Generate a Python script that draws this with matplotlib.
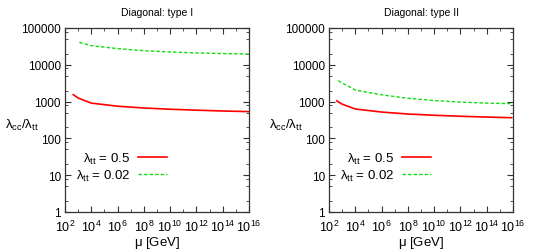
import numpy as np
import matplotlib.pyplot as plt
from matplotlib.ticker import FixedLocator, FuncFormatter, LogLocator, NullFormatter

plt.rcParams['font.family'] = ['Liberation Sans', 'DejaVu Sans']
plt.rcParams['mathtext.fontset'] = 'custom'
plt.rcParams['mathtext.rm'] = 'Liberation Sans'
plt.rcParams['mathtext.it'] = 'Liberation Sans'
plt.rcParams['mathtext.bf'] = 'Liberation Sans:bold'

# values (log10 of mu in GeV, ratio lambda_cc/lambda_tt)
titles = ["Diagonal: type I", "Diagonal: type II"]
labels = [r"$\lambda_{tt}$ = 0.5", r"$\lambda_{tt}$ = 0.02"]

t1_red_logmu = [2.63, 3, 4, 6, 8, 10, 12, 14, 16]
t1_red_ratio = [1540, 1250, 910, 750, 670, 620, 585, 555, 535]
t1_green_logmu = [3.09, 4, 6, 8, 10, 12, 14, 16]
t1_green_ratio = [40700, 33100, 27500, 24200, 22300, 21000, 20200, 19600]

t2_red_logmu = [2.59, 3, 4, 6, 8, 10, 12, 14, 15.9]
t2_red_ratio = [1050, 850, 630, 520, 460, 425, 400, 380, 365]
t2_green_logmu = [2.7, 3, 4, 6, 8, 10, 12, 14, 15.9]
t2_green_ratio = [3700, 3200, 2070, 1530, 1230, 1070, 970, 910, 880]

panels = [
    (t1_red_logmu, t1_red_ratio, t1_green_logmu, t1_green_ratio),
    (t2_red_logmu, t2_red_ratio, t2_green_logmu, t2_green_ratio),
]

fig = plt.figure(figsize=(5.5, 2.53), dpi=100)
lefts = [65 / 550, 329 / 550]

for k, (rx, ry, gx, gy) in enumerate(panels):
    ax = fig.add_axes([lefts[k], 40 / 253, 184 / 550, 184 / 253])
    ax.plot(10.0 ** np.array(rx), ry, color='#ff0000', lw=1.2, label=labels[0])
    ax.plot(10.0 ** np.array(gx), gy, color='#11dd11', lw=1.0,
            dashes=(2.5, 1.5), label=labels[1])
    ax.set_xscale('log')
    ax.set_yscale('log')
    ax.set_xlim(1e2, 1e16)
    ax.set_ylim(1, 1e5)

    ax.xaxis.set_major_locator(FixedLocator([10.0 ** e for e in range(2, 17, 2)]))
    ax.xaxis.set_minor_locator(FixedLocator([10.0 ** e for e in range(3, 16, 2)]))
    ax.xaxis.set_major_formatter(FuncFormatter(
        lambda v, p: r"$\mathdefault{10^{%d}}$" % round(np.log10(v))))
    ax.xaxis.set_minor_formatter(NullFormatter())
    ax.yaxis.set_major_locator(FixedLocator([1, 10, 100, 1000, 10000, 100000]))
    ax.yaxis.set_minor_locator(LogLocator(base=10, subs=[2, 5, 8]))
    ax.yaxis.set_major_formatter(FuncFormatter(lambda v, p: "%d" % v))
    ax.yaxis.set_minor_formatter(NullFormatter())

    ax.tick_params(which='both', direction='in', top=True, right=True,
                   color='#333333')
    ax.tick_params(axis='y', labelsize=8.5, pad=3)
    ax.tick_params(axis='x', labelsize=9, pad=5)
    ax.tick_params(which='major', length=4, width=0.8)
    ax.tick_params(which='minor', length=2, width=0.6)
    for s in ax.spines.values():
        s.set_linewidth(0.9)
        s.set_color('#333333')

    ax.set_title(titles[k], fontsize=7.5, pad=9)
    ax.set_xlabel(r"$\mu$ [GeV]", fontsize=9.5, labelpad=0)
    ax.set_ylabel(r"$\lambda_{cc}/\lambda_{tt}$", fontsize=9.5, rotation=0,
                  va='center', ha='center')
    ax.yaxis.set_label_coords(-0.235, 0.475)

    ax.legend(loc='lower left', bbox_to_anchor=(0.03, 0.13), frameon=False,
              markerfirst=False, fontsize=9.5, handlelength=2.2,
              handletextpad=0.6, labelspacing=0.15, borderaxespad=0)
    for t in ax.get_legend().get_texts():
        t.set_ha('right')

fig.savefig('out.png', dpi=100)
